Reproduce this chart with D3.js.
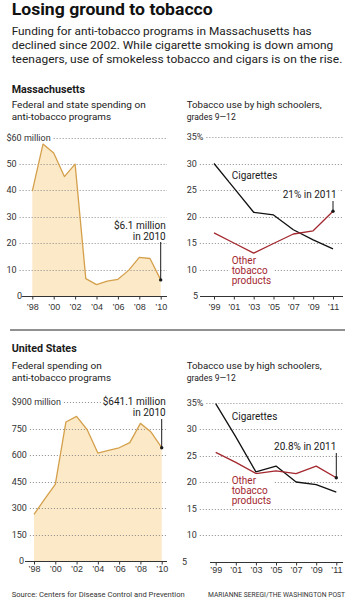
<!DOCTYPE html>
<html><head><meta charset="utf-8">
<script src="https://cdn.jsdelivr.net/npm/d3@7"></script>
<style>
body{margin:0;background:#fff;}
svg{display:block;font-family:Roboto,"Liberation Sans",Arial,sans-serif;}
</style></head><body>
<svg id="c" width="349" height="600"></svg>
<script>
// ---------- DATA ----------
const spendYears = [1998,1999,2000,2001,2002,2003,2004,2005,2006,2007,2008,2009,2010];
const maSpending = [39.7,57.5,54.1,45.2,49.9,6.6,4.3,5.6,6.3,9.7,14.6,14.2,6.1];
const usSpending = [264,350,434,787,819,743,611,626,641,670,779,730,641.1];
const spendTickYears = [1998,2000,2002,2004,2006,2008,2010];

const youthYears = [1999,2001,2003,2005,2007,2009,2011];
const maCigarettes = [30.0,25.4,20.8,20.3,17.5,15.6,13.9];
const maOther = [16.9,15.0,13.1,14.9,16.7,17.3,21.0];
const usCigarettes = [34.8,28.5,21.9,23.0,20.0,19.5,18.1];
const usOther = [25.6,23.7,21.6,22.1,21.6,23.0,20.8];

const maSpendTicks = [0,10,20,30,40,50,60];
const maSpendLabels = ["0","10","20","30","40","50","$60 million"];
const usSpendTicks = [0,150,300,450,600,750,900];
const usSpendLabels = ["0","150","300","450","600","750","$900 million"];
const youthTicks = [5,10,15,20,25,30,35];
const youthLabels = ["5","10","15","20","25","30","35%"];

const yearLabel = y => "\u2019" + String(y).slice(2);

// ---------- STYLE ----------
const GOLD = "#d4a04c", FILL = "#fce9c8", RED = "#a3282f", INK = "#1a1a1a", GRID = "#8a8a8a";

const svg = d3.select("#c");

function text(x, y, s, size, opt = {}) {
  const t = svg.append("text").attr("x", x).attr("y", y).text(s)
    .attr("font-size", size).attr("fill", opt.fill || INK)
    .attr("font-weight", opt.weight || "normal")
    .attr("text-anchor", opt.anchor || "start");
  if (opt.len) t.attr("textLength", opt.len).attr("lengthAdjust", "spacingAndGlyphs");
  return t;
}

// ---------- HEADER ----------
text(11.7, 15, "Losing ground to tobacco", 16.5, {weight: "bold", len: 201, fill: "#111"});
text(11.7, 35.3, "Funding for anti-tobacco programs in Massachusetts has", 10.5, {len: 300, fill: "#222"});
text(11.7, 49.3, "declined since 2002. While cigarette smoking is down among", 10.5, {len: 321.6, fill: "#222"});
text(11.7, 63.3, "teenagers, use of  smokeless tobacco and cigars is on the rise.", 10.5, {len: 330.6, fill: "#222"});

text(11.7, 92.7, "Massachusetts", 10, {weight: "bold", len: 73.3});
text(11.7, 108, "Federal and state spending on", 9.8, {len: 134});
text(11.7, 120.3, "anti-tobacco programs", 9.8, {len: 99.3});
text(186.7, 108, "Tobacco use by high schoolers,", 9.8, {len: 135});
text(186.7, 120.3, "grades 9\u201412", 9.8, {len: 49});

svg.append("line").attr("x1", 10).attr("x2", 345).attr("y1", 330).attr("y2", 330)
  .attr("stroke", "#222").attr("stroke-width", 1);

text(11.7, 351.7, "United States", 10, {weight: "bold", len: 65});
text(11.7, 369.3, "Federal spending on", 9.8, {len: 90});
text(11.7, 381, "anti-tobacco programs", 9.8, {len: 99.3});
text(186.7, 369.3, "Tobacco use by high schoolers,", 9.8, {len: 135});
text(186.7, 381, "grades 9\u201412", 9.8, {len: 49});

text(11.7, 596.5, "Source: Centers for Disease Control and Prevention", 7.6, {len: 173, fill: "#333"});
text(208, 596.5, "MARIANNE SEREGI/THE WASHINGTON POST", 6.8, {len: 137, fill: "#333"});

// ---------- PANELS ----------
function panel(cfg) {
  const x = d3.scaleLinear().domain(cfg.xDomain).range(cfg.xRange);
  const y = d3.scaleLinear().domain(cfg.yDomain).range(cfg.yRange);
  const g = svg.append("g");
  const gArea = g.append("g"), gGrid = g.append("g"), gLines = g.append("g"), gAnn = g.append("g");

  cfg.ticks.forEach((t, i) => {
    const isZero = i === 0;
    const lx = isZero ? cfg.zeroX : cfg.labelX;
    const lab = gGrid.append("text").attr("x", lx).attr("y", y(t)).attr("dy", "0.35em")
      .attr("font-size", 9).attr("fill", "#333").text(cfg.labels[i]);
    const end = lx + lab.node().getComputedTextLength();
    if (!isZero) {
      gGrid.append("line").attr("x1", end + 3).attr("x2", cfg.gridEnd)
        .attr("y1", Math.round(y(t)) + 0.5).attr("y2", Math.round(y(t)) + 0.5)
        .attr("stroke", GRID).attr("stroke-width", 1).attr("stroke-dasharray", "1,2");
    }
  });

  const ax = d3.axisBottom(x).tickValues(cfg.xTicks).tickFormat(yearLabel)
    .tickSize(3).tickPadding(cfg.tickPad);
  const axg = gGrid.append("g").attr("transform", `translate(0,${Math.round(cfg.yRange[0]) + 0.5})`).call(ax);
  axg.select(".domain").remove();
  axg.selectAll("line").attr("stroke", "#333");
  axg.selectAll("text").attr("font-size", 9).attr("fill", "#333").attr("font-family", null);
  gGrid.append("line").attr("x1", cfg.axisStart).attr("x2", cfg.gridEnd)
    .attr("y1", Math.round(cfg.yRange[0]) + 0.5).attr("y2", Math.round(cfg.yRange[0]) + 0.5)
    .attr("stroke", "#333").attr("stroke-width", 1);

  (cfg.series || []).forEach(s => {
    const pts = s.values.map((v, i) => [cfg.years[i], v]);
    if (s.area) {
      gArea.append("path").datum(pts)
        .attr("d", d3.area().x(d => x(d[0])).y0(y(cfg.yDomain[0])).y1(d => y(d[1])))
        .attr("fill", FILL);
    }
    gLines.append("path").datum(pts)
      .attr("d", d3.line().x(d => x(d[0])).y(d => y(d[1])))
      .attr("fill", "none").attr("stroke", s.color).attr("stroke-width", s.width || 1.3)
      .attr("stroke-linejoin", "round");
  });

  (cfg.notes || []).forEach(n => {
    const tg = gAnn.append("g");
    const bg = tg.append("rect").attr("fill", "#fff");
    n.lines.forEach((l, i) => {
      tg.append("text").attr("x", n.x).attr("y", n.y + i * n.lh).attr("font-size", n.size || 10)
        .attr("text-anchor", n.anchor || "start").attr("fill", n.color || INK).text(l);
    });
    const texts = tg.selectAll("text").nodes();
    const bb = texts.map(t => t.getBBox());
    const x0 = d3.min(bb, b => b.x) - 2, x1 = d3.max(bb, b => b.x + b.width) + 2;
    const y0 = d3.min(bb, b => b.y) - 1, y1 = d3.max(bb, b => b.y + b.height) + 1;
    bg.attr("x", x0).attr("y", y0).attr("width", x1 - x0).attr("height", y1 - y0);
    if (n.pointer) {
      const px = x(n.pointer.year), py = y(n.pointer.value);
      tg.append("line").attr("x1", px).attr("x2", px).attr("y1", n.pointer.from).attr("y2", py)
        .attr("stroke", INK).attr("stroke-width", 1);
      tg.append("circle").attr("cx", px).attr("cy", py).attr("r", 1.7).attr("fill", INK);
    }
  });
}

panel({
  xDomain: [1998, 2010], xRange: [32.3, 160.7], yDomain: [0, 60], yRange: [296, 137.5],
  ticks: maSpendTicks, labels: maSpendLabels, labelX: 6.5, zeroX: 17, axisStart: 21.7, gridEnd: 167,
  xTicks: spendTickYears, tickPad: 4, years: spendYears,
  series: [{values: maSpending, color: GOLD, area: true}],
  notes: [{x: 165.7, y: 228.5, lh: 11, anchor: "end", lines: ["$6.1 million", "in 2010"],
           pointer: {year: 2010, value: maSpending[12], from: 242}}]
});

panel({
  xDomain: [1999, 2011], xRange: [214, 333], yDomain: [5, 35], yRange: [296, 137],
  ticks: youthTicks, labels: youthLabels, labelX: 186.7, zeroX: 193, axisStart: 200, gridEnd: 343,
  xTicks: youthYears, tickPad: 4, years: youthYears,
  series: [{values: maCigarettes, color: "#111"}, {values: maOther, color: RED}],
  notes: [
    {x: 231.7, y: 179, lh: 10, lines: ["Cigarettes"]},
    {x: 336.7, y: 198.3, lh: 10, anchor: "end", lines: ["21% in 2011"],
     pointer: {year: 2011, value: maOther[6], from: 201}},
    {x: 231.7, y: 264.3, lh: 9.6, color: RED, lines: ["Other", "tobacco", "products"]}
  ]
});

panel({
  xDomain: [1998, 2010], xRange: [34, 161.7], yDomain: [0, 900], yRange: [561, 402],
  ticks: usSpendTicks, labels: usSpendLabels, labelX: 11.7, zeroX: 19, axisStart: 25, gridEnd: 167,
  xTicks: spendTickYears, tickPad: 1, years: spendYears,
  series: [{values: usSpending, color: GOLD, area: true}],
  notes: [{x: 165.7, y: 405, lh: 11, anchor: "end", lines: ["$641.1 million", "in 2010"],
           pointer: {year: 2010, value: usSpending[12], from: 419}}]
});

panel({
  xDomain: [1999, 2011], xRange: [215.7, 336.3], yDomain: [5, 35], yRange: [561.5, 402.5],
  ticks: youthTicks, labels: youthLabels, labelX: 186.7, zeroX: 182, axisStart: 210, gridEnd: 343,
  xTicks: youthYears, tickPad: 1, years: youthYears,
  series: [{values: usCigarettes, color: "#111"}, {values: usOther, color: RED}],
  notes: [
    {x: 231.7, y: 420, lh: 10, lines: ["Cigarettes"]},
    {x: 336.3, y: 450, lh: 10, anchor: "end", lines: ["20.8% in 2011"],
     pointer: {year: 2011, value: usOther[6], from: 453}},
    {x: 231.7, y: 484.3, lh: 9.6, color: RED, lines: ["Other", "tobacco", "products"]}
  ]
});
</script>
</body></html>
